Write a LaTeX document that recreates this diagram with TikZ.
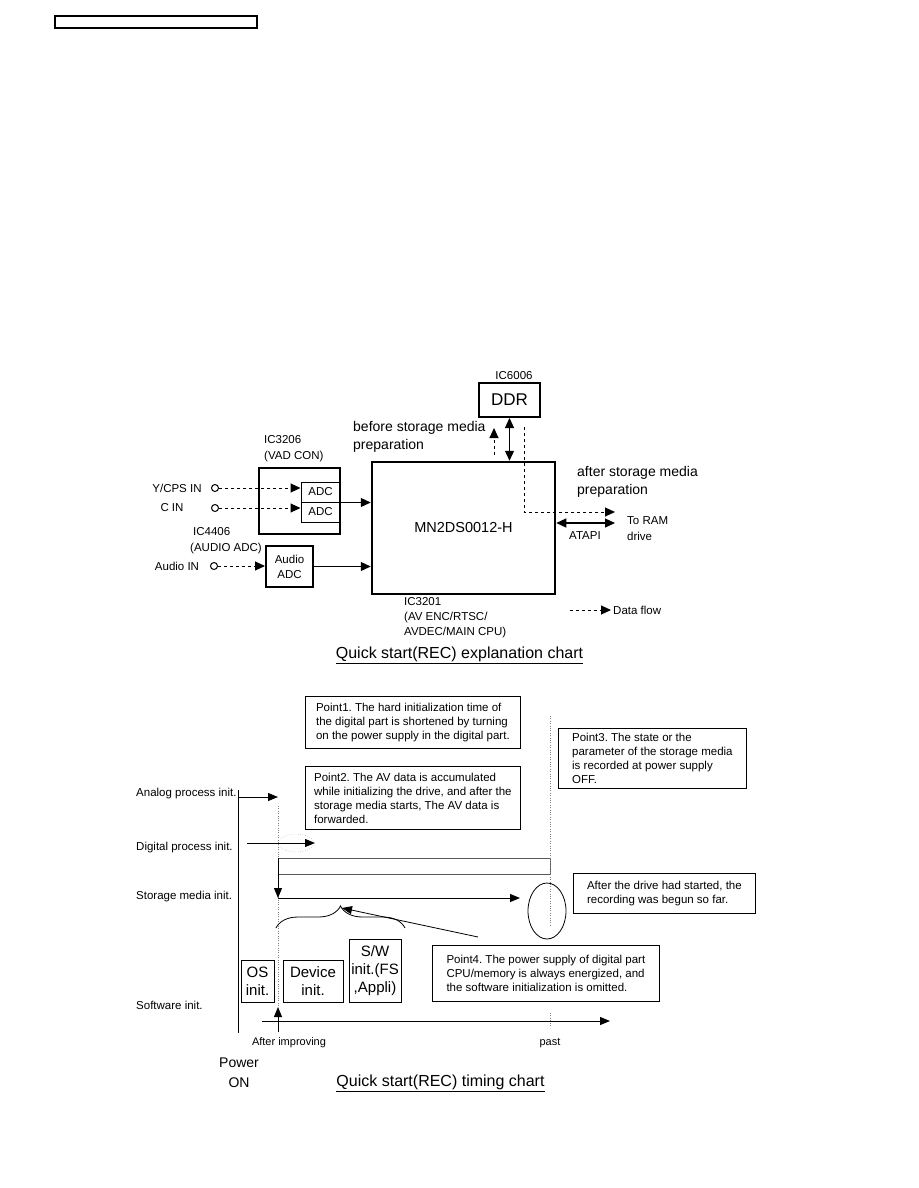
\documentclass[tikz,border=0pt]{standalone}
\usepackage{fontspec}
\setmainfont{Liberation Sans}
\usetikzlibrary{arrows.meta,positioning,calc,decorations.pathreplacing}
\frenchspacing

\begin{document}
\begin{tikzpicture}[x=1pt, y=-1pt, >={Triangle[length=10pt,width=9pt]},
    blk/.style={draw, line width=2pt, inner sep=0pt},
    lbl/.style={inner sep=0pt, align=left, font=\fontsize{11.5}{16}\selectfont},
    big/.style={inner sep=0pt, align=left, font=\fontsize{14}{18}\selectfont},
    flow/.style={dashed, line width=1pt, ->},
    sig/.style={line width=1.2pt, ->},
    note/.style={draw, line width=0.8pt, anchor=north west, align=left, inner xsep=4pt,
      font=\fontsize{11.5}{14}\selectfont},
    row/.style={inner sep=0pt, anchor=west, font=\fontsize{11.5}{13}\selectfont},
    sw/.style={draw, line width=0.8pt, inner sep=0pt, align=center, font=\fontsize{15}{18}\selectfont},
    tl/.style={line width=1pt, ->, >={Triangle[length=10pt,width=8pt]}},
    pin/.style={circle, draw, line width=1pt, minimum size=7pt, inner sep=0pt}]
  \useasboundingbox (0,0) rectangle (918,1188);
  \draw[line width=1.5pt] (55,16) rectangle (257,28);

  % explanation chart
  \node[blk, minimum width=61pt, minimum height=34pt, font=\fontsize{17}{20}\selectfont] (ddr) at (509.5,400) {DDR};
  \node[lbl] (ic6006) at (514,376) {IC6006};
  \node[blk, line width=2.5pt, minimum width=183pt, minimum height=132pt,
    font=\fontsize{14.5}{17}\selectfont] (cpu) at (463.5,528) {MN2DS0012-H};
  \node[blk, minimum width=81pt, minimum height=66pt] (vad) at (299.5,501) {};
  \node[lbl, anchor=west] (ic3206) at (264,449) {IC3206\\(VAD CON)};
  \node[draw, line width=1pt, minimum width=39pt, minimum height=20pt, inner sep=0pt,
    font=\fontsize{11.5}{14}\selectfont] (adca) at (320.5,492) {ADC};
  \node[draw, line width=1pt, minimum width=39pt, minimum height=20pt, inner sep=0pt,
    font=\fontsize{11.5}{14}\selectfont] (adcb) at (320.5,512) {ADC};
  \node[blk, minimum width=47pt, minimum height=41pt, align=center,
    font=\fontsize{11.5}{15}\selectfont] (aadc) at (289.5,566.5) {Audio\\ADC};
  \node[lbl, anchor=west] (ic4406) at (190,541) {\hspace{3pt}IC4406\\(AUDIO ADC)};

  \node[pin] (ycps) at (215,488) {};
  \node[pin] (cin) at (215,508) {};
  \node[pin] (ain) at (214,566) {};
  \node[lbl] at (177,488) {Y/CPS IN};
  \node[lbl] at (172,508) {C IN};
  \node[lbl] at (177,566) {Audio IN};
  \draw[flow] (ycps) -- (ycps -| adca.west);
  \draw[flow] (cin) -- (cin -| adcb.west);
  \draw[flow] (ain) -- (ain -| aadc.west);
  \draw[sig] (adca.south east) -- (adca.south east -| cpu.west);
  \draw[sig] (aadc.east) -- (aadc.east -| cpu.west);
  \draw[sig, <->] (ddr.south) -- (ddr.south |- cpu.north);

  \node[big, anchor=west] (before) at (353,437) {before storage media\\preparation};
  \coordinate (up0) at (494,455);
  \coordinate (up1) at (494,428);
  \draw[flow] (up0) -- (up1);
  \node[big, anchor=west] (after) at (577,481.5) {after storage media\\preparation};
  \coordinate (ddrout) at (524,427);
  \coordinate (bend) at (524,512);
  \coordinate (ramout) at (615,512);
  \draw[flow] (ddrout) -- (bend) -- (ramout);
  \coordinate (ram) at (615,523);
  \draw[sig, <->] (cpu.east |- ram) -- (ram);
  \node[lbl] (atapi) at (585,536) {ATAPI};
  \node[lbl, anchor=west] (todrive) at (627,529) {To RAM\\drive};
  \node[lbl, anchor=north west, font=\fontsize{11.5}{15}\selectfont] (ic3201) at (404,597)
    {IC3201\\(AV ENC/RTSC/\\AVDEC/MAIN CPU)};
  \coordinate (lg0) at (570,610);
  \coordinate (lg1) at (611,610);
  \draw[flow] (lg0) -- (lg1);
  \node[lbl, anchor=west] (lgtext) at (613,610) {Data flow};
  \node[inner sep=0pt, font=\fontsize{16}{19}\selectfont] (title1) at (459.5,655)
    {\underline{Quick start(REC) explanation chart}};

  % timing chart
  \node[note, minimum width=215pt, minimum height=52pt] (p1) at (305,696)
    {Point1. The hard initialization time of\\the digital part is shortened by turning\\on the power supply in the digital part.};
  \node[note, minimum width=215pt, minimum height=63pt] (p2) at (305,766)
    {Point2. The AV data is accumulated\\while initializing the drive, and after the\\storage media starts, The AV data is\\forwarded.};
  \node[note, minimum width=188pt, minimum height=60pt] (p3) at (558,728)
    {Point3. The state or the\\parameter of the storage media\\is recorded at power supply\\OFF.};
  \node[note, minimum width=182pt, minimum height=40pt] (drv) at (573,873)
    {After the drive had started, the\\recording was begun so far.};
  \node[note, minimum width=227pt, minimum height=56pt] (p4) at (432,945)
    {Point4. The power supply of digital part\\CPU/memory is always energized, and\\the software initialization is omitted.};

  \node[row] (analog) at (136,794) {Analog process init.};
  \node[row] (digital) at (136,848) {Digital process init.};
  \node[row] (storage) at (136,897) {Storage media init.};
  \node[row] (software) at (136,1005) {Software init.};

  \coordinate (pwrtop) at (238,790);
  \coordinate (pwrbot) at (238,1033);
  \draw[line width=1pt] (pwrtop) -- (pwrbot);
  \draw[tl] (238,797) -- (278,797);
  \draw[tl] (247,843) -- (315,843);
  \draw[gray, dotted] (296,843) ellipse [x radius=18pt, y radius=9pt];
  \draw[gray, dotted] (278,806) -- (278,1007);
  \draw[gray!70!black, line width=0.8pt] (278,858) rectangle (550,874);
  \draw[tl] (278,858) -- (278,898);
  \draw[tl] (278,898) -- (520,898);
  \draw[gray, dotted] (550,716) -- (550,927);
  \draw[line width=0.8pt] (547,911) ellipse [x radius=19pt, y radius=28pt];

  \draw[line width=0.8pt, decorate, decoration={brace, amplitude=22pt}] (276,928) -- (405,928);
  \coordinate (bracetip) at (342,908);
  \coordinate (p4ptr) at (478,937);
  \draw[tl, line width=0.8pt] (p4ptr) -- (bracetip);

  \node[sw, minimum width=33pt, minimum height=42pt] (os) at (257.5,981) {OS\\init.};
  \node[sw, minimum width=60pt, minimum height=42pt] (dev) at (313,981) {Device\\init.};
  \node[sw, minimum width=52pt, minimum height=63pt] (swi) at (375,970.5) {S/W\\init.(FS\\,Appli)};

  \coordinate (ax0) at (262,1021);
  \coordinate (ax1) at (610,1021);
  \draw[tl] (ax0) -- (ax1);
  \draw[gray, dotted] (550,1013) -- (550,1026);
  \draw[tl] (278,1032) -- (278,1007);
  \node[inner sep=0pt, font=\fontsize{11}{13}\selectfont] (improve) at (289,1043) {After improving};
  \node[inner sep=0pt, font=\fontsize{11}{13}\selectfont] (past) at (550,1043) {past};
  \node[inner sep=0pt, align=center, font=\fontsize{14}{20}\selectfont] (power) at (239,1073) {Power\\ON};
  \node[inner sep=0pt, font=\fontsize{16}{19}\selectfont] (title2) at (440.5,1083)
    {\underline{Quick start(REC) timing chart}};
\end{tikzpicture}
\end{document}
